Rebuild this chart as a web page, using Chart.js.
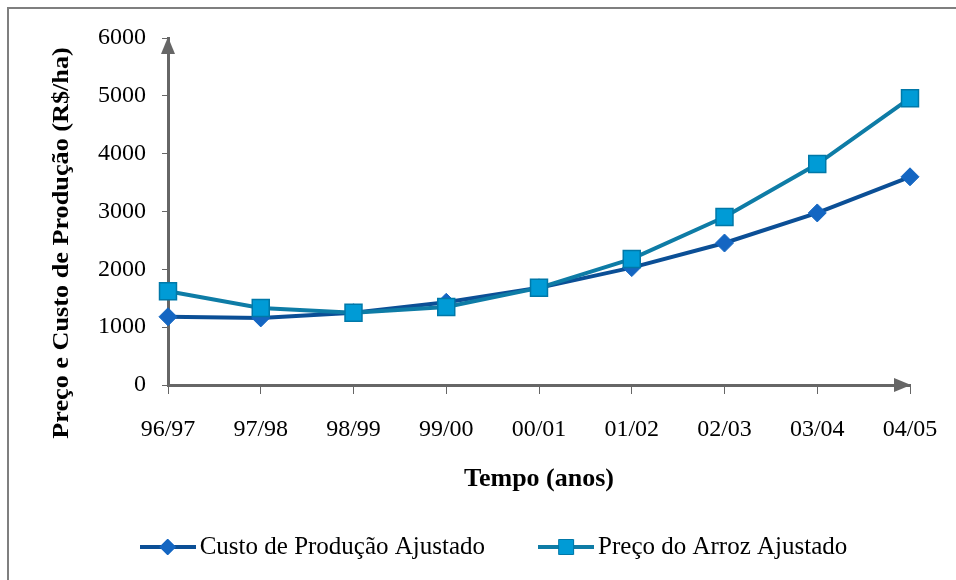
<!DOCTYPE html>
<html>
<head>
<meta charset="utf-8">
<script src="https://cdn.jsdelivr.net/npm/chart.js@4"></script>
<style>
  html, body { margin: 0; padding: 0; background: #ffffff; }
  #wrap { width: 956px; height: 580px; }
</style>
</head>
<body>
<div id="wrap"><canvas id="riceChart" width="956" height="580"></canvas></div>
<script>
/*
  Preço do arroz vs custo de produção, safras 96/97 a 04/05 (R$/ha)
*/

// safras (eixo x)
const safras = ["96/97", "97/98", "98/99", "99/00", "00/01", "01/02", "02/03", "03/04", "04/05"];

// valores
const custoProducao = [1180, 1160, 1250, 1430, 1680, 2030, 2455, 2975, 3600];
const precoArroz    = [1620, 1330, 1250, 1350, 1680, 2180, 2905, 3820, 4960];

// eixo y
const yMin = 0;
const yMax = 6000;
const yStep = 1000;

const yTitle = "Preço e Custo de Produção (R$/ha)";
const xTitle = "Tempo (anos)";

const custoLabel = "Custo de Produção Ajustado";
const precoLabel = "Preço do Arroz Ajustado";

const AXIS_COLOR = "#666666";
const SERIF = "'Liberation Serif', 'Times New Roman', serif";

// legend icon: line with marker in the middle
function legendIcon(lineColor, fill, stroke, shape) {
  const c = document.createElement("canvas");
  c.width = 56;
  c.height = 20;
  const g = c.getContext("2d");
  g.strokeStyle = lineColor;
  g.lineWidth = 4;
  g.beginPath();
  g.moveTo(0, 10);
  g.lineTo(56, 10);
  g.stroke();
  g.fillStyle = fill;
  g.strokeStyle = stroke;
  g.lineWidth = 1;
  g.beginPath();
  if (shape === "diamond") {
    g.moveTo(28, 2);
    g.lineTo(36, 10);
    g.lineTo(28, 18);
    g.lineTo(20, 10);
    g.closePath();
  } else {
    g.rect(20.5, 2.5, 15, 15);
  }
  g.fill();
  g.stroke();
  return c;
}

// frame around the figure (only left/top are visible in the crop)
const framePlugin = {
  id: "frame",
  beforeDraw(chart) {
    const ctx = chart.ctx;
    ctx.save();
    ctx.strokeStyle = "#7f7f7f";
    ctx.lineWidth = 2;
    ctx.strokeRect(8, 8, chart.width + 20, chart.height + 20);
    ctx.restore();
  }
};

// arrow heads at the ends of the axes + rotated y title
const arrowPlugin = {
  id: "axisArrows",
  afterDraw(chart) {
    const ctx = chart.ctx;
    const area = chart.chartArea;
    ctx.save();
    ctx.fillStyle = AXIS_COLOR;

    // y axis, pointing up
    ctx.beginPath();
    ctx.moveTo(area.left, area.top - 1);
    ctx.lineTo(area.left + 7, area.top + 16);
    ctx.lineTo(area.left - 7, area.top + 16);
    ctx.closePath();
    ctx.fill();

    // x axis, pointing right
    ctx.beginPath();
    ctx.moveTo(area.right + 1, area.bottom);
    ctx.lineTo(area.right - 16, area.bottom - 7);
    ctx.lineTo(area.right - 16, area.bottom + 7);
    ctx.closePath();
    ctx.fill();

    // y title (the original is a bit wide, so stretch along the text)
    ctx.translate(62, 243);
    ctx.rotate(-Math.PI / 2);
    ctx.scale(1.14, 1);
    ctx.fillStyle = "#000000";
    ctx.font = "bold 23px " + SERIF;
    ctx.textAlign = "center";
    ctx.textBaseline = "middle";
    ctx.fillText(yTitle, 0, 0);
    ctx.restore();
  }
};

const ctx = document.getElementById("riceChart");

new Chart(ctx, {
  type: "line",
  data: {
    labels: safras,
    datasets: [
      {
        label: custoLabel,
        data: custoProducao,
        borderColor: "#0B4F96",
        borderWidth: 4,
        pointStyle: "rectRot",
        pointRadius: 9,
        pointHoverRadius: 9,
        pointBackgroundColor: "#1466C2",
        pointBorderColor: "#1466C2",
        pointBorderWidth: 1,
        tension: 0,
        order: 2
      },
      {
        label: precoLabel,
        data: precoArroz,
        borderColor: "#0E7CA6",
        borderWidth: 4,
        pointStyle: "rect",
        pointRadius: 12,
        pointHoverRadius: 12,
        pointBackgroundColor: "#009BD6",
        pointBorderColor: "#0078A8",
        pointBorderWidth: 1.5,
        tension: 0,
        order: 1
      }
    ]
  },
  plugins: [framePlugin, arrowPlugin],
  options: {
    responsive: false,
    animation: false,
    layout: {
      padding: { left: 85.5, top: 38, right: 46, bottom: 10.5 }
    },
    plugins: {
      tooltip: { enabled: false },
      legend: {
        position: "bottom",
        labels: {
          usePointStyle: true,
          pointStyleWidth: 39,
          padding: 61.5,
          color: "#000000",
          font: { family: SERIF, size: 25 },
          generateLabels(chart) {
            return [
              {
                text: custoLabel,
                pointStyle: legendIcon("#0B4F96", "#1466C2", "#1466C2", "diamond"),
                datasetIndex: 0,
                fontColor: "#000000",
                lineWidth: 0
              },
              {
                text: precoLabel,
                pointStyle: legendIcon("#0E7CA6", "#009BD6", "#0078A8", "square"),
                datasetIndex: 1,
                fontColor: "#000000",
                lineWidth: 0
              }
            ];
          }
        }
      }
    },
    scales: {
      x: {
        offset: false,
        grid: {
          drawOnChartArea: false,
          drawTicks: true,
          tickLength: 9,
          color: AXIS_COLOR,
          lineWidth: 1
        },
        border: { color: AXIS_COLOR, width: 3 },
        ticks: {
          color: "#000000",
          padding: 17,
          maxRotation: 0,
          font: { family: SERIF, size: 24, lineHeight: 1.6 }
        },
        title: {
          display: true,
          text: xTitle,
          color: "#000000",
          font: { family: SERIF, size: 26, weight: "bold" },
          padding: { top: 0, bottom: -22 }
        },
        afterFit(scale) {
          scale.height = 88;
        }
      },
      y: {
        min: yMin,
        max: yMax,
        grid: {
          drawOnChartArea: false,
          drawTicks: true,
          tickLength: 6,
          color: AXIS_COLOR,
          lineWidth: 1
        },
        border: { color: AXIS_COLOR, width: 3 },
        ticks: {
          stepSize: yStep,
          color: "#000000",
          padding: 16,
          font: { family: SERIF, size: 24 },
          callback: function(value) {
            return String(value);
          }
        },
        afterFit(scale) {
          scale.width = 82.5;
        }
      }
    }
  }
});
</script>
</body>
</html>
